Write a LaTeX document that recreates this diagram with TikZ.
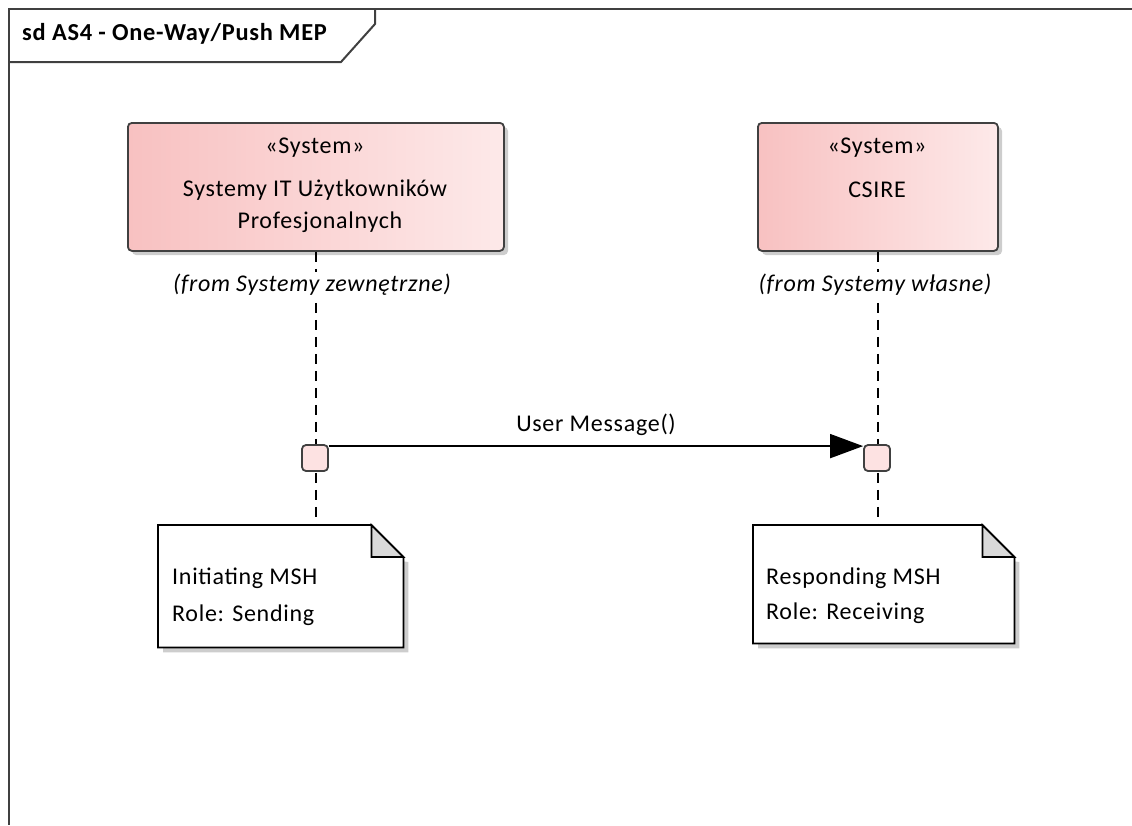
\documentclass[tikz,border=0pt]{standalone}
\usepackage{fontspec}
\setmainfont{Carlito}[LetterSpace=3]
\usetikzlibrary{arrows.meta,calc}
\definecolor{sysL}{RGB}{248,193,193}
\definecolor{sysR}{RGB}{253,233,233}
\definecolor{actpink}{RGB}{253,226,226}
\definecolor{foldgray}{RGB}{217,217,217}
\definecolor{shadowc}{RGB}{205,205,205}
\definecolor{linec}{RGB}{64,64,64}
\begin{document}
\begin{tikzpicture}[x=1pt,y=-1pt,
  every node/.style={font=\fontsize{24}{28}\selectfont, inner sep=0pt},
  frameline/.style={draw=linec, line width=2pt},
  sysbox/.style={draw=linec, line width=1.8pt, rounded corners=4pt, left color=sysL, right color=sysR, anchor=north west},
  sysshadow/.style={fill=shadowc, rounded corners=4pt},
  actbox/.style={draw=linec, line width=1.8pt, fill=actpink, rounded corners=4pt, minimum size=26pt},
  lifeline/.style={draw=black, line width=1.6pt, dash pattern=on 10pt off 7pt},
  msg/.style={draw=black, line width=1.8pt, -{Triangle[length=33pt,width=24pt]}},
  fromlbl/.style={font=\fontsize{24}{28}\selectfont\itshape, fill=white, inner sep=2pt},
  notebox/.style={anchor=north west, inner sep=0pt},
  noteline/.style={draw=black, line width=1.8pt, fill=white},
  notetext/.style={anchor=west}
]
\useasboundingbox (0,0) rectangle (1132,825);

% frame
\draw[frameline] (1132,9) -- (9,9) -- (9,825);
\draw[frameline] (9,62) -- (341,62) -- (375,24) -- (375,9);
\node[anchor=base west, font=\fontsize{24.4}{28}\selectfont\bfseries] (title) at (22,40) {sd AS4 - One-Way/Push MEP};

% system boxes
\fill[sysshadow] (132,127) rectangle (508,255);
\fill[sysshadow] (762,127) rectangle (1002,255);
\node[sysbox, minimum width=376pt, minimum height=128pt] (sysA) at (127,122) {};
\node[sysbox, minimum width=240pt, minimum height=128pt] (sysB) at (757,122) {};

% notes placeholders
\node[notebox, minimum width=245pt, minimum height=122pt] (noteA) at (158,525) {};
\node[notebox, minimum width=261pt, minimum height=118pt] (noteB) at (753,525) {};

% lifelines
\draw[lifeline] (sysA.south) -- (sysA.south |- noteA.north);
\draw[lifeline] (sysB.south) -- (sysB.south |- noteB.north);

% system texts
\node (stA) at (315,148) {«System»};
\node (nameA1) at (315,190) {Systemy IT Użytkowników};
\node (nameA2) at (320,222) {Profesjonalnych};
\node (stB) at (877,148) {«System»};
\node (nameB) at (877,190) {CSIRE};
\node[fromlbl] (fromA) at (312,285) {(from Systemy zewnętrzne)};
\node[fromlbl] (fromB) at (875,285) {(from Systemy własne)};

% activations
\node[actbox] (actA) at (315,458) {};
\node[actbox] (actB) at (877,458) {};

% message
\draw[msg] ([yshift=-2pt]actA.north east) -- ([yshift=-2pt]actB.north west);
\node (msglbl) at (596,425) {User Message()};

% note A
\fill[shadowc] ($(noteA.north west)+(5,5)$) -- ($(noteA.north east)+(5,37)$) -- ($(noteA.south east)+(5,5)$) -- ($(noteA.south west)+(5,5)$) -- cycle;
\path[noteline] (noteA.north west) -- ($(noteA.north east)+(-32,0)$) -- ($(noteA.north east)+(0,32)$) -- (noteA.south east) -- (noteA.south west) -- cycle;
\path[draw=black, line width=1.8pt, fill=foldgray] ($(noteA.north east)+(-32,0)$) -- ($(noteA.north east)+(-32,32)$) -- ($(noteA.north east)+(0,32)$) -- cycle;
\node[notetext] (tA1) at (172,578) {Initiating MSH};
\node[notetext] (tA2) at (172,615) {Role: Sending};

% note B
\fill[shadowc] ($(noteB.north west)+(5,5)$) -- ($(noteB.north east)+(5,37)$) -- ($(noteB.south east)+(5,5)$) -- ($(noteB.south west)+(5,5)$) -- cycle;
\path[noteline] (noteB.north west) -- ($(noteB.north east)+(-32,0)$) -- ($(noteB.north east)+(0,32)$) -- (noteB.south east) -- (noteB.south west) -- cycle;
\path[draw=black, line width=1.8pt, fill=foldgray] ($(noteB.north east)+(-32,0)$) -- ($(noteB.north east)+(-32,32)$) -- ($(noteB.north east)+(0,32)$) -- cycle;
\node[notetext] (tB1) at (766,578) {Responding MSH};
\node[notetext] (tB2) at (766,613) {Role: Receiving};
\end{tikzpicture}
\end{document}
